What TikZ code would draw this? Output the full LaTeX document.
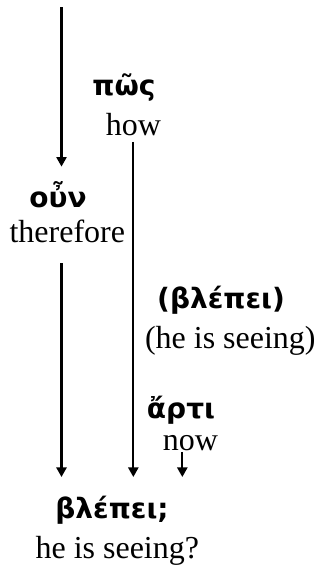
\documentclass[tikz,border=0pt]{standalone}
\usepackage{fontspec}
\setmainfont{Liberation Serif}
\newfontfamily\greekfont{DejaVu Sans}
\usetikzlibrary{positioning, arrows.meta}

\begin{document}
\begin{tikzpicture}[
    x=0.375pt, y=-0.375pt,
    >={Triangle[length=3.6pt, width=3.8pt]},
    grk/.style={inner sep=0pt, font=\greekfont\bfseries\fontsize{10.5}{12}\selectfont},
    eng/.style={inner sep=0pt, font=\fontsize{12}{14}\selectfont},
    arr/.style={->, line width=0.8pt},
  ]
  \useasboundingbox (0,0) rectangle (320,569);

  \node[grk] (pos)  at (124,88)  {πῶς};
  \node[eng, below=4pt of pos, xshift=3.5pt] (how) {how};

  \node[grk] (oun)  at (58,195)  {οὖν};
  \node[eng, below=4pt of oun, xshift=3.5pt] (therefore) {therefore};

  \node[grk] (blep) at (221,300) {(βλέπει)};
  \node[eng, below=4pt of blep, xshift=3.5pt] (seeing) {(he is seeing)};

  \node[grk] (arti) at (181,410) {ἄρτι};
  \node[eng, below=4pt of arti, xshift=3.5pt] (now) {now};

  \node[grk] (main) at (112,510) {βλέπει;};
  \node[eng, below=4pt of main, xshift=2pt] (question) {he is seeing?};

  \coordinate (top) at (61.5,7);
  \coordinate (tip) at (0,477);

  \draw[arr] (top) -- ([yshift=5.5pt]oun.north -| top);
  \draw[arr] ([yshift=-7.5pt]therefore.south -| top) -- (top |- tip);
  \draw[arr] ([yshift=-2pt]how.south) -- (how.south |- tip);
  \draw[arr] ([xshift=-3pt]now.south) -- ([xshift=-3pt]now.south |- tip);
\end{tikzpicture}
\end{document}
